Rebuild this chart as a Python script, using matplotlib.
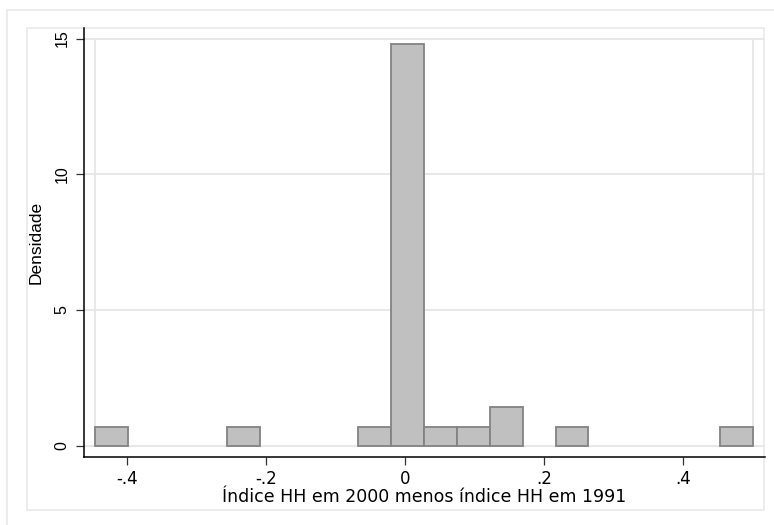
import matplotlib
matplotlib.use("Agg")
import matplotlib.pyplot as plt
from matplotlib.patches import Rectangle
import numpy as np

# ---- data ----
bin_start = -0.4456
bin_width = 0.0473
densities = [0.70, 0, 0, 0, 0.70, 0, 0, 0, 0.70, 14.80,
             0.70, 0.70, 1.41, 0, 0.70, 0, 0, 0, 0, 0.70]
x_ticks = [-0.4, -0.2, 0.0, 0.2, 0.4]
x_tick_labels = ["-.4", "-.2", "0", ".2", ".4"]
y_ticks = [0, 5, 10, 15]
y_tick_labels = ["0", "5", "10", "15"]
x_title = "Índice HH em 2000 menos índice HH em 1991"
y_title = "Densidade"

W, H = 774, 525
fig = plt.figure(figsize=(W / 100, H / 100), dpi=100)
fig.patch.set_facecolor("white")

# outer frames (graph region)
frame_col = "#e9e9e9"
fig.add_artist(Rectangle((7 / W, -0.05), 1.05, 1 - 10 / H + 0.05,
                         transform=fig.transFigure, fill=False,
                         edgecolor=frame_col, linewidth=1.2, zorder=0))
fig.add_artist(Rectangle((27 / W, 1 - 510 / H), (764 - 27) / W, (510 - 28) / H,
                         transform=fig.transFigure, fill=False,
                         edgecolor=frame_col, linewidth=1.2, zorder=0))

ax_left, ax_right, ax_top, ax_bottom = 84, 765, 28, 457
ax = fig.add_axes([ax_left / W, 1 - ax_bottom / H,
                   (ax_right - ax_left) / W, (ax_bottom - ax_top) / H])
ax.set_facecolor("none")

# pixel mapping: x pixel = 405 + 695*v ; y: 0 at 445.5, 15 at 38.5
xs, x0 = 695.0, 405.0
ys, y0 = (445.5 - 38.5) / 15.0, 445.5
ax.set_xlim((ax_left - x0) / xs, (ax_right - x0) / xs)
ax.set_ylim(-(ax_bottom - y0) / ys, (y0 - ax_top) / ys)

edges = bin_start + bin_width * np.arange(len(densities) + 1)
grid_col = "#e6e6e6"
for yv in y_ticks:
    ax.axhline(yv, color=grid_col, linewidth=1.3, zorder=1)
# plot-region outline (sides)
ax.vlines([edges[0], edges[-1]], y_ticks[0], y_ticks[-1], color=grid_col,
          linewidth=1.3, zorder=1)

lefts = [edges[i] for i, d in enumerate(densities) if d > 0]
heights = [d for d in densities if d > 0]
ax.bar(lefts, heights, width=bin_width, align="edge", color="#c0c0c0",
       edgecolor="#828282", linewidth=1.3, zorder=3)

for s in ["top", "right"]:
    ax.spines[s].set_visible(False)
for s in ["left", "bottom"]:
    ax.spines[s].set_linewidth(1.1)
    ax.spines[s].set_color("black")

ax.set_xticks(x_ticks)
ax.set_xticklabels(x_tick_labels, fontsize=12, family="DejaVu Sans")
ax.set_yticks(y_ticks)
ax.set_yticklabels(y_tick_labels, fontsize=11.5, family="Liberation Sans",
                   rotation=90, va="center")
ax.tick_params(axis="both", length=5.5, width=0.9, color="#333333")
ax.tick_params(axis="x", pad=4)
ax.tick_params(axis="y", pad=5)

ax.set_xlabel(x_title, fontsize=12.5, family="DejaVu Sans", labelpad=0)
ax.set_ylabel(y_title, fontsize=12.5, family="Liberation Sans", labelpad=8)

fig.savefig("out.png", dpi=100)
